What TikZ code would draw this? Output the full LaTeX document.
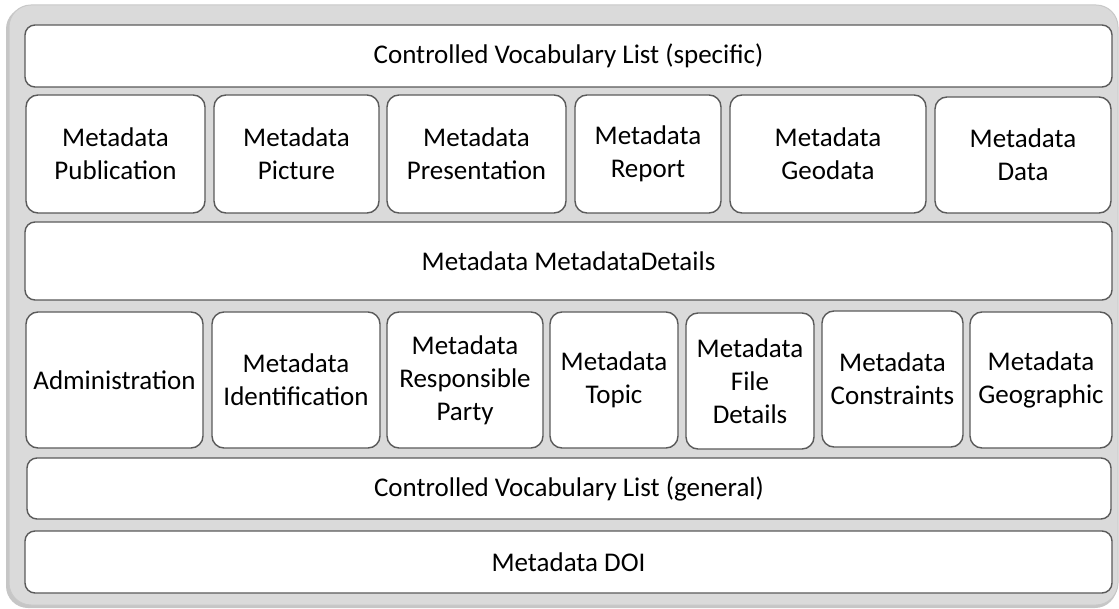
\documentclass[tikz,border=0pt]{standalone}
\usepackage{fontspec}
\setmainfont{Carlito}
\definecolor{outerfill}{HTML}{DADADA}
\definecolor{outerline}{HTML}{C8C8C8}
\definecolor{boxline}{HTML}{5A5A5A}
\begin{document}
\begin{tikzpicture}[x=1pt,y=-1pt,
  box/.style={draw=boxline, line width=1.4pt, fill=white, rounded corners=12pt,
    align=center, font=\fontsize{27}{33}\selectfont, inner sep=0pt, anchor=center},
  wide/.style={box, rounded corners=10pt}]
\useasboundingbox (0,0) rectangle (1119,609);
% outer panel
\fill[gray!45, rounded corners=22pt] (6,7) rectangle (1117,608);
\draw[outerline, fill=outerfill, line width=1pt, rounded corners=22pt] (9,5) rectangle (1118,605);
% rows
\node[wide, minimum width=1087pt, minimum height=62pt] (cvs) at (568.5,56) {Controlled Vocabulary List (specific)};
\node[box, minimum width=179pt, minimum height=118pt] (pub) at (115.5,154) {Metadata\\Publication};
\node[box, minimum width=165pt, minimum height=118pt] (pic) at (296.5,154) {Metadata\\Picture};
\node[box, minimum width=179pt, minimum height=118pt] (pres) at (476.5,154) {Metadata\\Presentation};
\node[box, minimum width=146pt, minimum height=118pt] (rep) at (648,154) {Metadata\\Report};
\node[box, minimum width=196pt, minimum height=118pt] (geod) at (828,154) {Metadata\\Geodata};
\node[box, minimum width=176pt, minimum height=116pt] (data) at (1023,155) {Metadata\\Data};
\node[wide, minimum width=1087pt, minimum height=78pt] (det) at (568.5,261) {Metadata MetadataDetails};
\node[box, minimum width=177pt, minimum height=136pt] (adm) at (114.5,380) {Administration};
\node[box, minimum width=168pt, minimum height=136pt] (ident) at (296,380) {Metadata\\Identification};
\node[box, minimum width=156pt, minimum height=136pt] (resp) at (465,380) {Metadata\\Responsible\\Party};
\node[box, minimum width=128pt, minimum height=136pt] (topic) at (614,380) {Metadata\\Topic};
\node[box, minimum width=128pt, minimum height=136pt] (file) at (750,381) {Metadata\\File\\Details};
\node[box, minimum width=141pt, minimum height=136pt] (cons) at (892.5,379) {Metadata\\Constraints};
\node[box, minimum width=142pt, minimum height=136pt] (geog) at (1041,380) {Metadata\\Geographic};
\node[wide, minimum width=1084pt, minimum height=61pt] (cvg) at (569,488.5) {Controlled Vocabulary List (general)};
\node[wide, minimum width=1087pt, minimum height=62pt] (doi) at (568.5,562) {Metadata DOI};
\end{tikzpicture}
\end{document}
